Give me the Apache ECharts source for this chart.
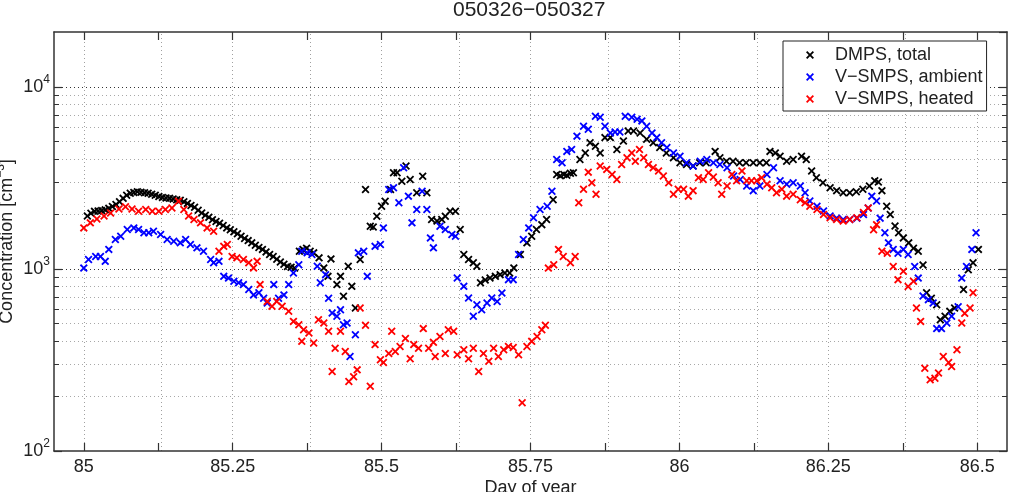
<!DOCTYPE html>
<html>
<head>
<meta charset="utf-8">
<title>050326-050327</title>
<script src="https://cdn.jsdelivr.net/npm/echarts@6/dist/echarts.min.js"></script>
<style>
  html, body { margin: 0; padding: 0; background: #fff; }
  #chart { width: 1015px; height: 492px; }
</style>
</head>
<body>
<div id="chart"></div>
<script>
// Day of year / concentration [cm-3]
const dmpsTotal = [
  [85.006,1950],[85.012,2020],[85.018,2070],[85.024,2080],[85.030,2090],[85.036,2110],[85.042,2150],[85.048,2200],
  [85.054,2260],[85.060,2340],[85.066,2440],[85.072,2540],[85.078,2600],[85.084,2630],[85.090,2650],[85.096,2640],
  [85.102,2620],[85.108,2600],[85.114,2570],[85.120,2540],[85.126,2500],[85.132,2470],[85.138,2450],[85.144,2440],
  [85.150,2420],[85.156,2400],[85.162,2380],[85.168,2340],[85.174,2290],[85.180,2230],[85.186,2180],[85.192,2100],
  [85.198,2030],[85.204,1970],[85.210,1920],[85.216,1860],[85.222,1820],[85.228,1780],[85.234,1730],[85.240,1680],
  [85.246,1640],[85.252,1600],[85.258,1560],[85.264,1510],[85.270,1470],[85.276,1430],[85.282,1390],[85.288,1350],
  [85.294,1310],[85.300,1280],[85.306,1240],[85.312,1200],[85.318,1170],[85.324,1130],[85.330,1090],[85.336,1060],
  [85.342,1030],[85.348,1020],[85.354,1010],[85.362,1250],[85.368,1280],[85.374,1300],[85.380,1250],[85.386,1225],
  [85.395,1150],[85.403,1013],[85.410,910],[85.415,1135],[85.425,820],[85.431,910],[85.436,707],[85.444,1033],
  [85.450,802],[85.456,610],[85.464,1125],[85.473,2730],[85.481,1715],[85.486,1700],[85.492,1948],[85.500,2210],
  [85.506,2355],[85.515,2730],[85.520,3370],[85.526,3370],[85.534,3030],[85.541,3670],[85.548,3100],[85.559,2620],
  [85.569,3230],[85.576,2620],[85.584,1870],[85.593,1830],[85.601,1870],[85.607,1948],[85.615,2075],[85.624,2075],
  [85.632,1645],[85.638,1200],[85.646,1125],[85.654,1080],[85.660,1033],[85.666,840],[85.674,870],[85.682,892],
  [85.691,910],[85.699,930],[85.707,950],[85.715,950],[85.722,1013],[85.733,1200],[85.744,1390],[85.752,1510],
  [85.760,1645],[85.769,1750],[85.777,1870],[85.788,2400],[85.794,3300],[85.800,3250],[85.806,3300],[85.811,3270],
  [85.817,3350],[85.822,3370],[85.833,3990],[85.842,4330],[85.850,4930],[85.859,4720],[85.867,4330],[85.875,5260],
  [85.884,5260],[85.895,4530],[85.906,5040],[85.914,5720],[85.923,5720],[85.934,5580],[85.945,5150],[85.956,4930],
  [85.967,4640],[85.978,4330],[85.990,4080],[86.001,3830],[86.012,3740],[86.023,3670],[86.034,3830],[86.045,3830],
  [86.060,4420],[86.068,4080],[86.079,3900],[86.090,3900],[86.101,3830],[86.112,3830],[86.124,3830],[86.135,3830],
  [86.146,3830],[86.152,4420],[86.161,4330],[86.169,4160],[86.180,3900],[86.191,3990],[86.205,4160],[86.213,3990],
  [86.222,3450],[86.230,3170],[86.241,2970],[86.253,2790],[86.264,2690],[86.275,2620],[86.286,2620],[86.297,2650],
  [86.308,2740],[86.319,2850],[86.328,3050],[86.334,3000],[86.340,2690],[86.348,2210],[86.354,1990],[86.362,1720],
  [86.368,1580],[86.376,1480],[86.385,1390],[86.393,1300],[86.401,1250],[86.409,1050],[86.415,740],[86.423,690],
  [86.432,635],[86.438,526],[86.446,550],[86.454,585],[86.462,610],[86.477,770],[86.485,990],[86.493,1080],
  [86.502,1280]
];

const vsmpsAmbient = [
  [85.000,1010],[85.008,1125],[85.020,1170],[85.028,1170],[85.036,1100],[85.042,1280],[85.053,1450],[85.062,1510],
  [85.073,1645],[85.084,1680],[85.092,1645],[85.101,1580],[85.109,1580],[85.117,1610],[85.129,1545],[85.140,1450],
  [85.151,1420],[85.162,1390],[85.171,1450],[85.179,1360],[85.190,1305],[85.201,1250],[85.213,1125],[85.218,1080],
  [85.227,1100],[85.235,910],[85.243,890],[85.252,855],[85.260,840],[85.268,820],[85.277,770],[85.285,720],
  [85.294,740],[85.302,690],[85.308,650],[85.319,820],[85.327,690],[85.336,720],[85.344,820],[85.352,950],
  [85.361,1055],[85.366,1250],[85.375,1225],[85.383,1200],[85.392,1033],[85.397,840],[85.406,930],[85.411,690],
  [85.417,573],[85.425,550],[85.431,597],[85.436,494],[85.442,505],[85.447,330],[85.456,435],[85.461,1225],
  [85.470,1250],[85.476,910],[85.489,1330],[85.498,1360],[85.503,1680],[85.512,2730],[85.520,2790],[85.529,2310],
  [85.537,3590],[85.545,2510],[85.551,1790],[85.559,2120],[85.568,2670],[85.576,2120],[85.582,1480],[85.587,1305],
  [85.598,1715],[85.607,1645],[85.618,1545],[85.624,1510],[85.627,892],[85.638,802],[85.646,693],[85.654,550],
  [85.660,636],[85.668,597],[85.677,650],[85.685,693],[85.694,663],[85.702,738],[85.713,873],[85.721,873],
  [85.730,1200],[85.738,1450],[85.747,1680],[85.755,1910],[85.766,2120],[85.778,2210],[85.786,2670],[85.794,3990],
  [85.803,3830],[85.811,4420],[85.819,4530],[85.828,5360],[85.839,6080],[85.847,5850],[85.859,6900],[85.867,6800],
  [85.875,6080],[85.884,5580],[85.892,5650],[85.900,5650],[85.909,6900],[85.920,6800],[85.929,6640],[85.937,6500],
  [85.945,6080],[85.954,5580],[85.962,5260],[85.970,4930],[85.979,4640],[85.990,4330],[86.001,4160],[86.012,3830],
  [86.023,3670],[86.035,3900],[86.046,3990],[86.057,3830],[86.068,3740],[86.080,3590],[86.091,3240],[86.102,3100],
  [86.113,2850],[86.124,2690],[86.135,2850],[86.147,3300],[86.158,3590],[86.169,3050],[86.180,2920],[86.191,2970],
  [86.203,2850],[86.211,2620],[86.219,2360],[86.231,2210],[86.242,2080],[86.253,1950],[86.264,1900],[86.275,1870],
  [86.286,1870],[86.298,1900],[86.309,1990],[86.317,2160],[86.323,2510],[86.331,2360],[86.337,1900],[86.345,1580],
  [86.351,1390],[86.359,1280],[86.367,1220],[86.376,1280],[86.384,1200],[86.395,1030],[86.401,890],[86.409,710],
  [86.418,678],[86.426,650],[86.432,470],[86.440,470],[86.449,505],[86.457,550],[86.468,620],[86.474,890],
  [86.482,1030],[86.491,1280],[86.498,1580]
];

const vsmpsHeated = [
  [85.000,1680],[85.011,1790],[85.022,1880],[85.034,1950],[85.045,2030],[85.059,2135],[85.070,2195],[85.081,2135],
  [85.092,2075],[85.104,2120],[85.115,2075],[85.126,2075],[85.137,2120],[85.148,2160],[85.159,2355],[85.168,2120],
  [85.176,1950],[85.185,1870],[85.196,1790],[85.207,1680],[85.218,1610],[85.227,1250],[85.235,1330],[85.241,1360],
  [85.249,1170],[85.257,1150],[85.268,1125],[85.277,1080],[85.285,1013],[85.291,1100],[85.296,820],[85.308,663],
  [85.316,623],[85.324,663],[85.333,623],[85.344,585],[85.352,515],[85.361,494],[85.366,400],[85.369,463],
  [85.378,445],[85.386,392],[85.394,526],[85.403,505],[85.411,455],[85.417,273],[85.422,367],[85.431,455],
  [85.439,352],[85.445,241],[85.453,256],[85.459,279],[85.464,610],[85.473,490],[85.481,227],[85.489,384],
  [85.498,317],[85.503,306],[85.512,343],[85.517,455],[85.523,352],[85.531,375],[85.540,415],[85.548,321],
  [85.554,384],[85.562,367],[85.570,470],[85.579,367],[85.587,395],[85.590,330],[85.598,425],[85.607,343],
  [85.612,463],[85.621,455],[85.627,338],[85.638,360],[85.646,321],[85.654,367],[85.663,273],[85.671,343],
  [85.680,311],[85.688,367],[85.696,330],[85.705,360],[85.713,375],[85.721,370],[85.730,338],[85.736,184],
  [85.744,375],[85.752,400],[85.761,425],[85.769,463],[85.775,490],[85.780,1010],[85.789,1055],[85.797,1280],
  [85.805,1170],[85.817,1080],[85.825,1170],[85.831,2310],[85.839,2740],[85.847,3400],[85.853,2970],[85.860,2570],
  [85.867,3670],[85.878,3520],[85.887,3300],[85.895,3100],[85.903,3740],[85.912,4080],[85.920,4330],[85.926,3900],
  [85.933,4530],[85.940,4080],[85.948,3740],[85.956,3590],[85.965,3450],[85.973,3240],[85.982,2970],[85.990,2570],
  [85.998,2740],[86.007,2740],[86.015,2510],[86.023,2690],[86.032,3170],[86.040,3100],[86.049,3370],[86.057,3200],
  [86.065,2970],[86.071,2570],[86.080,2850],[86.088,3300],[86.096,3050],[86.105,3450],[86.113,3050],[86.121,3050],
  [86.130,3050],[86.138,3170],[86.147,2920],[86.155,2790],[86.163,2620],[86.172,2740],[86.180,2510],[86.191,2570],
  [86.203,2400],[86.211,2310],[86.219,2210],[86.231,2120],[86.242,1990],[86.253,1910],[86.264,1870],[86.275,1830],
  [86.286,1870],[86.298,1910],[86.309,2040],[86.317,2160],[86.326,1640],[86.331,1750],[86.340,1250],[86.349,1220],
  [86.359,1030],[86.367,873],[86.376,970],[86.384,800],[86.393,855],[86.398,610],[86.405,515],[86.412,285],
  [86.421,246],[86.429,251],[86.435,268],[86.443,330],[86.452,306],[86.457,291],[86.466,360],[86.474,505],
  [86.479,570],[86.488,610],[86.493,740]
];

// axis ticks / grid
const xTickValues = [85, 85.125, 85.25, 85.375, 85.5, 85.625, 85.75, 85.875, 86, 86.125, 86.25, 86.375, 86.5];
const xLabelValues = [85, 85.25, 85.5, 85.75, 86, 86.25, 86.5];
const yMajorValues = [1000, 10000];
const yMinorValues = [200, 300, 400, 500, 600, 700, 800, 900, 2000, 3000, 4000, 5000, 6000, 7000, 8000, 9000];

const seriesNames = ['DMPS, total', 'V\u2212SMPS, ambient', 'V\u2212SMPS, heated'];
const seriesColors = ['#000000', '#0000ff', '#ff0000'];

// small filled "x" marker
const crossIcon = 'path://M0,1.6L1.6,0L5,3.4L8.4,0L10,1.6L6.6,5L10,8.4L8.4,10L5,6.6L1.6,10L0,8.4L3.4,5Z';
const font = '"Liberation Sans", Arial, Helvetica, sans-serif';
const textColor = '#222';
const axisColor = '#333';
const xMin = 84.95, xMax = 86.55;
const minorTickLen = 0.0084; // ~5px in days

let chart = echarts.init(document.getElementById('chart'), null, { renderer: 'canvas' });

// grid lines as mark lines on an empty helper series (behind the points)
let gridLines = [];
xTickValues.forEach(v => gridLines.push({ xAxis: v, lineStyle: { color: '#a0a0a0', type: [1, 3], width: 1 } }));
yMinorValues.forEach(v => gridLines.push({ yAxis: v, lineStyle: { color: '#a8a8a8', type: [1, 3], width: 1 } }));
yMajorValues.forEach(v => gridLines.push({ yAxis: v, lineStyle: { color: '#333', type: [1, 3], width: 1 } }));
// minor log ticks on left and right frame
yMinorValues.forEach(v => {
    gridLines.push([{ coord: [xMin, v], lineStyle: { color: axisColor, type: 'solid', width: 1 } }, { coord: [xMin + minorTickLen, v] }]);
    gridLines.push([{ coord: [xMax - minorTickLen, v], lineStyle: { color: axisColor, type: 'solid', width: 1 } }, { coord: [xMax, v] }]);
});

function scatterSeries(i, data) {
    return {
        name: seriesNames[i],
        type: 'scatter',
        data: data,
        symbol: crossIcon,
        symbolSize: 8,
        itemStyle: { color: seriesColors[i], opacity: 1 },
        z: 3 + i
    };
}

let option = {
    animation: false,
    backgroundColor: '#fff',
    textStyle: { fontFamily: font },
    title: {
        text: '050326\u2212050327',
        left: 453,
        top: 0,
        padding: 0,
        textStyle: { fontFamily: font, fontSize: 21, fontWeight: 'normal', color: textColor }
    },
    legend: {
        data: seriesNames,
        orient: 'vertical',
        left: 783,
        top: 41,
        padding: [5, 4, 3, 23],
        itemGap: 4,
        itemWidth: 8,
        itemHeight: 8,
        icon: crossIcon,
        backgroundColor: '#fff',
        borderColor: '#222',
        borderWidth: 1,
        borderRadius: 0,
        textStyle: { fontFamily: font, fontSize: 18, color: textColor, padding: [0, 0, 0, 16] },
        selectedMode: false
    },
    grid: { left: 54, right: 8, top: 32, bottom: 41, containLabel: false, outerBoundsMode: 'none' },
    xAxis: [
        {
            type: 'value',
            min: xMin,
            max: xMax,
            name: 'Day of year',
            nameLocation: 'middle',
            nameGap: 28,
            nameMoveOverlap: false,
            nameTextStyle: { fontFamily: font, fontSize: 18, color: textColor },
            axisLine: { show: true, lineStyle: { color: axisColor, width: 1.5 } },
            axisTick: { show: true, inside: true, length: 8, customValues: xTickValues, lineStyle: { color: axisColor, width: 1.2 } },
            axisLabel: {
                customValues: xLabelValues,
                margin: 7,
                fontFamily: font, fontSize: 18, color: textColor,
                formatter: v => String(v)
            },
            splitLine: { show: false }
        },
        {
            type: 'value',
            position: 'top',
            min: xMin,
            max: xMax,
            axisLine: { show: true, lineStyle: { color: axisColor, width: 1.5 } },
            axisTick: { show: true, inside: true, length: 8, customValues: xTickValues, lineStyle: { color: axisColor, width: 1.2 } },
            axisLabel: { show: false },
            splitLine: { show: false }
        }
    ],
    yAxis: [
        {
            type: 'log',
            logBase: 10,
            min: 100,
            max: 20000,
            name: '{a|Concentration [cm}{s|\u22123}{a|]}',
            nameLocation: 'middle',
            nameGap: 35,
            nameMoveOverlap: false,
            nameTextStyle: {
                fontFamily: font, color: textColor,
                rich: {
                    a: { fontFamily: font, fontSize: 18, color: textColor, lineHeight: 24 },
                    s: { fontFamily: font, fontSize: 12, color: textColor, lineHeight: 12, verticalAlign: 'top' }
                }
            },
            axisLine: { show: true, lineStyle: { color: axisColor, width: 1.5 } },
            axisTick: { show: true, inside: true, length: 8, lineStyle: { color: axisColor, width: 1.2 } },
            axisLabel: {
                margin: 4,
                showMaxLabel: false,
                formatter: v => '{b|10}{s|' + Math.round(Math.log10(v)) + '}',
                rich: {
                    b: { fontFamily: font, fontSize: 18, color: textColor, lineHeight: 26 },
                    s: { fontFamily: font, fontSize: 12, color: textColor, lineHeight: 12, verticalAlign: 'top' }
                }
            },
            splitLine: { show: false }
        },
        {
            type: 'log',
            logBase: 10,
            min: 100,
            max: 20000,
            position: 'right',
            axisLine: { show: true, lineStyle: { color: axisColor, width: 1.5 } },
            axisTick: { show: true, inside: true, length: 8, lineStyle: { color: axisColor, width: 1.2 } },
            axisLabel: { show: false },
            splitLine: { show: false }
        }
    ],
    series: [
        {
            name: 'grid',
            type: 'line',
            data: [],
            silent: true,
            z: 0,
            markLine: {
                silent: true,
                z: 0,
                symbol: ['none', 'none'],
                label: { show: false },
                emphasis: { disabled: true },
                data: gridLines
            }
        },
        scatterSeries(0, dmpsTotal),
        scatterSeries(1, vsmpsAmbient),
        scatterSeries(2, vsmpsHeated)
    ]
};

chart.setOption(option);
</script>
</body>
</html>
